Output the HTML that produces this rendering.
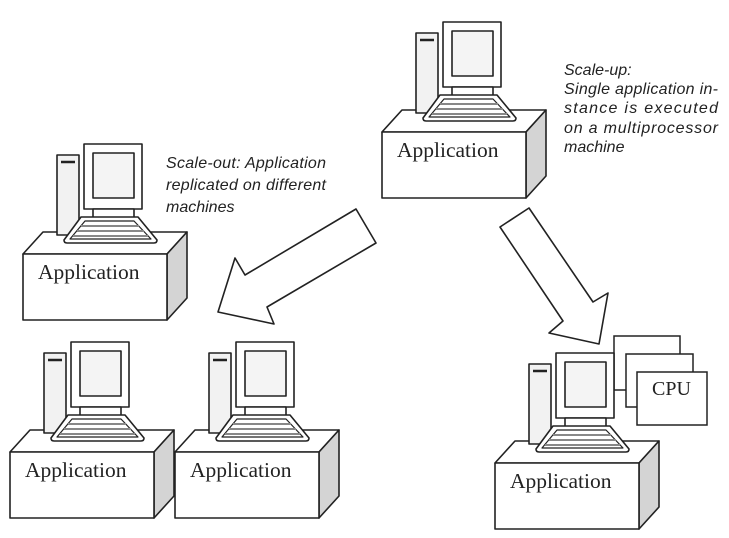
<!DOCTYPE html>
<html><head><meta charset="utf-8"><style>
html,body{margin:0;padding:0;background:#fff;}
svg{display:block;}
.it{font-family:"Liberation Sans",sans-serif;font-style:italic;font-size:16px;fill:#222;}
</style></head><body>
<svg width="729" height="538" viewBox="0 0 729 538" xmlns="http://www.w3.org/2000/svg">
<defs>
<g id="pc" stroke="#222" stroke-width="1.6" stroke-linejoin="round">
  <polygon points="0,0 20,-22 164,-22 144,0" fill="#fff"/>
  <polygon points="144,0 164,-22 164,44 144,66" fill="#d4d4d4"/>
  <rect x="0" y="0" width="144" height="66" fill="#fff"/>
  <rect x="34" y="-99" width="22" height="80" fill="#f2f2f2"/>
  <line x1="38" y1="-92" x2="52" y2="-92" stroke-width="2.5"/>
  <rect x="61" y="-110" width="58" height="65" fill="#fff"/>
  <rect x="70" y="-101" width="41" height="45" fill="#f4f4f4"/>
  <rect x="70" y="-45" width="41" height="9" fill="#fff"/>
  <path d="M58,-37 L115,-37 L134,-14 Q134,-11 131,-11 L44,-11 Q41,-11 41,-14 Z" fill="#fff"/>
  <path d="M62,-33 L111,-33 L128,-15 L47,-15 Z" fill="#fff" stroke-width="1.2"/>
  <line x1="58" y1="-28" x2="116" y2="-28" stroke="#888" stroke-width="2"/>
  <line x1="54" y1="-23" x2="121" y2="-23" stroke="#888" stroke-width="2"/>
  <line x1="50" y1="-18" x2="125" y2="-18" stroke="#888" stroke-width="2"/>
  <text x="15" y="25" stroke="none" fill="#222" font-family="Liberation Serif, serif" font-size="21.5">Application</text>
</g>
</defs>

<use href="#pc" x="382" y="132"/>
<use href="#pc" x="23" y="254"/>
<use href="#pc" x="10" y="452"/>
<use href="#pc" x="175" y="452"/>

<g stroke="#222" stroke-width="1.5" fill="#fff">
  <rect x="614" y="336" width="66" height="54"/>
  <rect x="626" y="354" width="67" height="53"/>
  <rect x="637" y="372" width="70" height="53"/>
</g>
<text x="652" y="395" font-family="Liberation Serif, serif" font-size="20" fill="#222">CPU</text>
<use href="#pc" x="495" y="463"/>

<polygon points="356,209 376,243 267,307 274,324 218,312 235,258 245,275" fill="#fff" stroke="#222" stroke-width="1.6" stroke-linejoin="round"/>
<polygon points="529,208 593,302 608,293 599,344 549,333 563,321 500,227" fill="#fff" stroke="#222" stroke-width="1.6" stroke-linejoin="round"/>

<text class="it" x="564" y="75">Scale-up:</text>
<text class="it" x="564" y="94" textLength="154" lengthAdjust="spacing">Single application in-</text>
<text class="it" x="564" y="113" textLength="154" lengthAdjust="spacing">stance is executed</text>
<text class="it" x="564" y="133" textLength="154" lengthAdjust="spacing">on a multiprocessor</text>
<text class="it" x="564" y="152">machine</text>

<text class="it" x="166" y="168" textLength="160" lengthAdjust="spacing">Scale-out: Application</text>
<text class="it" x="166" y="190" textLength="160" lengthAdjust="spacing">replicated on different</text>
<text class="it" x="166" y="212">machines</text>
</svg>
</body></html>
